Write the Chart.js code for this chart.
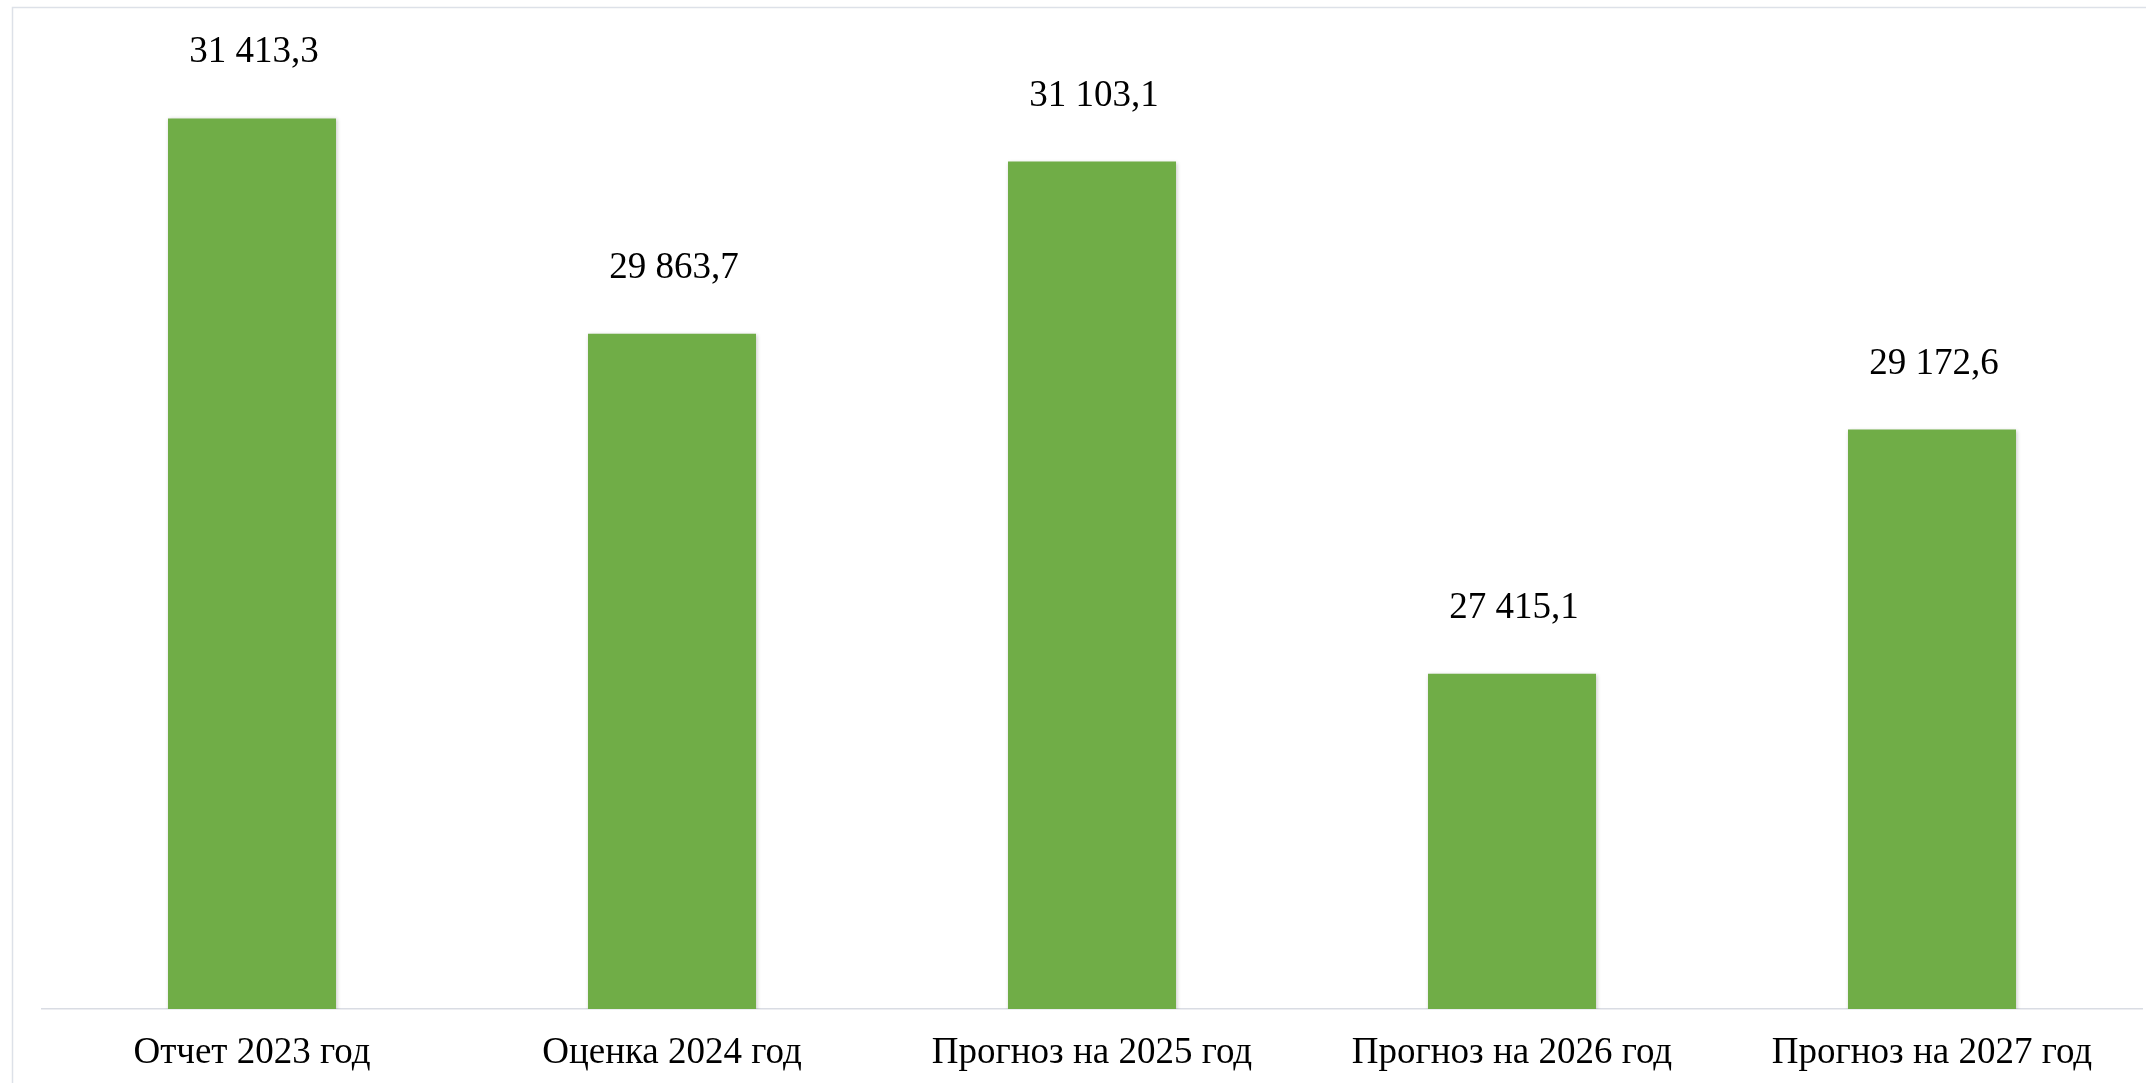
<!DOCTYPE html>
<html>
<head>
<meta charset="utf-8">
<script src="https://cdn.jsdelivr.net/npm/chart.js@4"></script>
<style>
  html, body { margin: 0; padding: 0; background: #ffffff; }
  #wrap { width: 2146px; height: 1083px; position: relative; }
  canvas { display: block; }
  .probe { font-family: "Liberation Serif"; position: absolute; left: -9999px; }
</style>
</head>
<body>
<span class="probe">Прогноз 0123</span>
<div id="wrap"><canvas id="c" width="2146" height="1083"></canvas></div>
<script>
const categories = ["Отчет 2023 год", "Оценка 2024 год", "Прогноз на 2025 год", "Прогноз на 2026 год", "Прогноз на 2027 год"];
const values = [31413.3, 29863.7, 31103.1, 27415.1, 29172.6];
const yMin = 25000;
const yMax = 32000;

const FONT = '"Liberation Serif", "Times New Roman", serif';

function fmt(v) {
  const parts = v.toFixed(1).split('.');
  const intPart = parts[0].replace(/\B(?=(\d{3})+(?!\d))/g, ' ');
  return intPart + ',' + parts[1];
}

const framePlugin = {
  id: 'frame',
  beforeDraw(chart) {
    const ctx = chart.ctx;
    ctx.save();
    ctx.fillStyle = '#ffffff';
    ctx.fillRect(0, 0, chart.width, chart.height);
    ctx.strokeStyle = '#dde1e8';
    ctx.lineWidth = 1.5;
    ctx.strokeRect(12.5, 7.5, chart.width + 20, chart.height + 20);
    ctx.restore();
  }
};

const shadowPlugin = {
  id: 'barShadow',
  beforeDatasetsDraw(chart) {
    const ctx = chart.ctx;
    ctx.save();
    ctx.shadowColor = 'rgba(0,0,0,0.22)';
    ctx.shadowBlur = 4;
    ctx.shadowOffsetX = 1;
    ctx.shadowOffsetY = 1;
  },
  afterDatasetsDraw(chart) {
    chart.ctx.restore();
  }
};

const labelPlugin = {
  id: 'valueLabels',
  afterDatasetsDraw(chart) {
    const ctx = chart.ctx;
    const meta = chart.getDatasetMeta(0);
    ctx.save();
    ctx.font = '37px ' + FONT;
    ctx.fillStyle = '#000000';
    ctx.textAlign = 'center';
    ctx.textBaseline = 'alphabetic';
    meta.data.forEach((bar, i) => {
      const v = chart.data.datasets[0].data[i];
      ctx.fillText(fmt(v), bar.x + 2, bar.y - 56);
    });
    ctx.restore();
  }
};

function draw() {
  new Chart(document.getElementById('c'), {
    type: 'bar',
    data: {
      labels: categories,
      datasets: [{
        data: values,
        backgroundColor: '#70ad47',
        borderWidth: 0,
        categoryPercentage: 1.0,
        barPercentage: 0.4
      }]
    },
    options: {
      responsive: false,
      devicePixelRatio: 1,
      animation: false,
      layout: { padding: { left: 42, right: 4, top: 37, bottom: 0 } },
      plugins: {
        legend: { display: false },
        tooltip: { enabled: false },
        title: { display: false }
      },
      scales: {
        x: {
          grid: { display: false, drawTicks: false },
          border: { display: true, color: '#d9dce3', width: 1.5 },
          ticks: {
            color: '#000000',
            font: { family: FONT, size: 37 },
            padding: 22,
            maxRotation: 0,
            autoSkip: false
          },
          afterFit(scale) { scale.height = 74; }
        },
        y: {
          display: false,
          min: yMin,
          max: yMax
        }
      }
    },
    plugins: [framePlugin, shadowPlugin, labelPlugin]
  });
}

if (document.fonts && document.fonts.load) {
  document.fonts.load('37px "Liberation Serif"').then(draw, draw);
} else {
  draw();
}
</script>
</body>
</html>
